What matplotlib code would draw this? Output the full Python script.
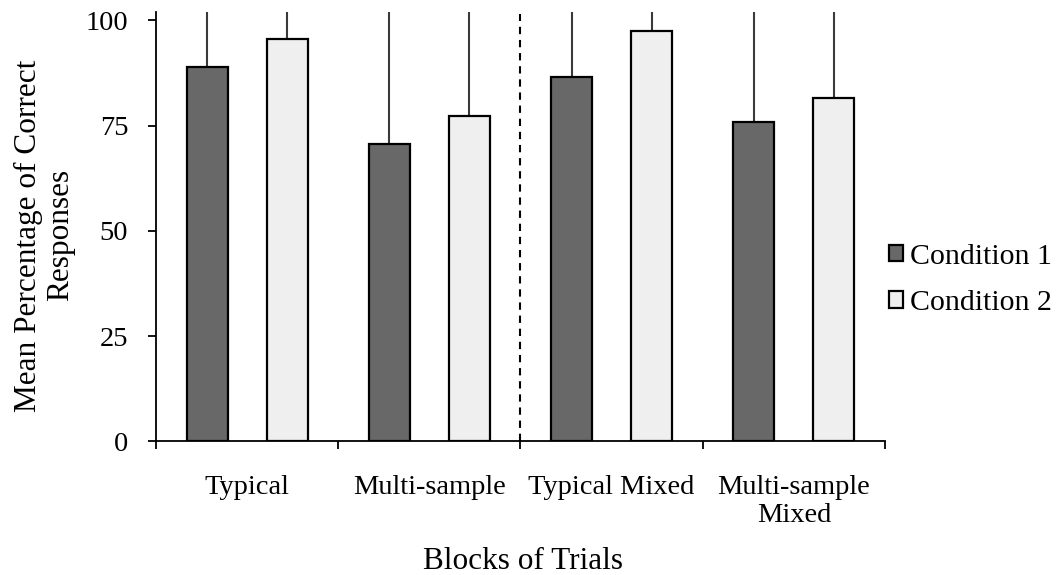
import matplotlib
matplotlib.use("Agg")
import matplotlib.pyplot as plt
import numpy as np

categories = ["Typical", "Multi-sample", "Typical Mixed", "Multi-sample\nMixed"]
series_names = ["Condition 1", "Condition 2"]
condition1 = [89.0, 70.7, 86.5, 75.8]
condition2 = [95.6, 77.3, 97.4, 81.6]
# upper error bars (extend beyond the visible plot area)
err1 = [18.0, 35.0, 20.0, 30.0]
err2 = [12.0, 28.0, 8.0, 24.0]
yticks = [0, 25, 50, 75, 100]

plt.rcParams['font.family'] = ['Liberation Serif', 'DejaVu Serif']
plt.rcParams['font.size'] = 20.5

fig = plt.figure(figsize=(10.59, 5.75), dpi=100)
ax = fig.add_axes([0.1473, 0.2322, 0.6884, 0.7470])

x = np.arange(len(categories))
w = 0.225
off = 0.22
kw = dict(edgecolor='black', linewidth=1.6, zorder=3)
ax.bar(x - off, condition1, w, color='#686868', label=series_names[0], **kw)
ax.bar(x + off, condition2, w, color='#efefef', label=series_names[1], **kw)
ax.errorbar(x - off, condition1, yerr=[np.zeros(4), err1], fmt='none',
            ecolor='#3a3a3a', elinewidth=1.5, capsize=0, zorder=2)
ax.errorbar(x + off, condition2, yerr=[np.zeros(4), err2], fmt='none',
            ecolor='#3a3a3a', elinewidth=1.5, capsize=0, zorder=2)

ax.axvline(1.5, ymin=0, ymax=101.5 / 102, color='black', linewidth=1.5,
           linestyle=(0, (3.5, 2.8)), zorder=4)

ax.set_xlim(-0.5, 3.5)
ax.set_ylim(0, 102)
ax.set_yticks(yticks)
ax.set_xticks(x)
ax.set_xticklabels(categories, fontsize=20.5, linespacing=1.15)
ax.set_xticks(np.arange(-0.5, 4.0, 1.0), minor=True)
ax.tick_params(axis='x', which='major', length=0, pad=24)
ax.tick_params(axis='x', which='minor', length=6, width=1.3, direction='out')
ax.tick_params(axis='y', length=6, width=1.3, direction='out', pad=14)

for s in ['top', 'right']:
    ax.spines[s].set_visible(False)
for s in ['left', 'bottom']:
    ax.spines[s].set_linewidth(1.3)

ax.set_ylabel("Mean Percentage of Correct\nResponses", fontsize=22.5, linespacing=1.15)
ax.yaxis.set_label_coords(-0.111, 0.48)
ax.set_xlabel("Blocks of Trials", fontsize=22.5)
ax.xaxis.label.set_va('baseline')
ax.xaxis.set_label_coords(0.504, -0.296)

ax.legend(loc='center left', bbox_to_anchor=(0.989, 0.376), frameon=False,
          fontsize=21.5, handlelength=0.47, handleheight=0.47, handletextpad=0.25,
          labelspacing=0.69, borderaxespad=0)

fig.savefig("out.png", dpi=100)
